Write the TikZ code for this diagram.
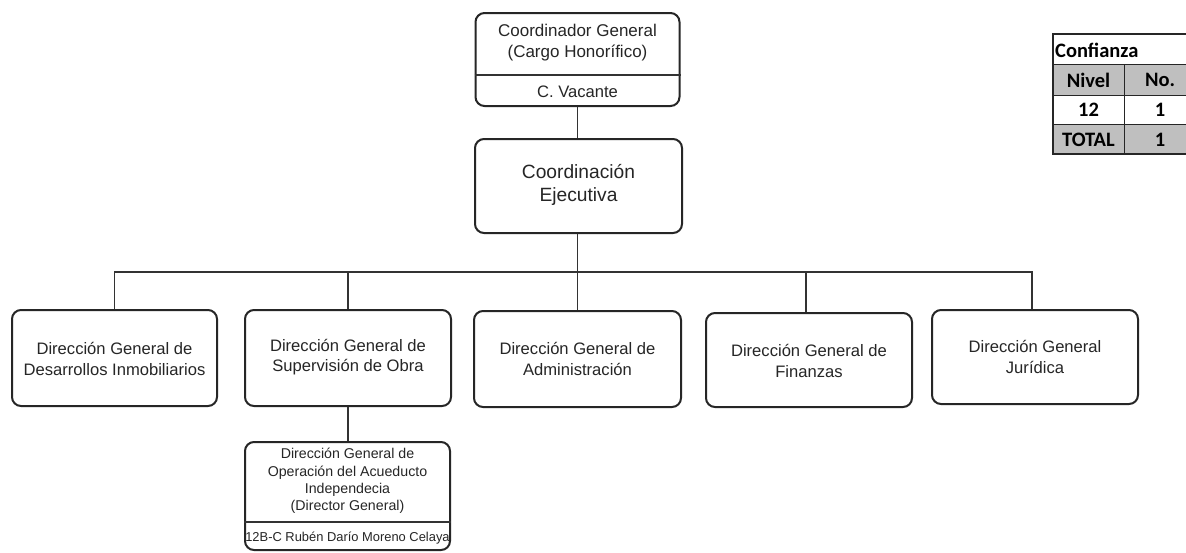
\documentclass[tikz,border=0pt]{standalone}
\usepackage{fontspec}
\setmainfont{Liberation Sans}
\newfontfamily\calib{Carlito}
\begin{document}
\begin{tikzpicture}[x=1pt,y=-1pt,
  box/.style={draw=black!85, line width=2pt, rounded corners=9pt, inner sep=0pt},
  txt/.style={align=center, inner sep=0pt, text=black!85, font=\fontsize{16.6}{20.5}\selectfont},
  bigtxt/.style={txt, font=\fontsize{19.2}{23}\selectfont},
  smalltxt/.style={txt, font=\fontsize{14.2}{17.3}\selectfont},
  link/.style={line width=1.3pt, draw=black!80},
  tcell/.style={draw=black!85, line width=1pt},
  ttxt/.style={inner sep=0pt, font=\calib\bfseries\fontsize{20.5}{22}\selectfont, text=black}]
\useasboundingbox (0,0) rectangle (1186,552);
\fill[white] (0,0) rectangle (1186,552);

% Coordinador General
\node[box, minimum width=204pt, minimum height=93pt] (cg) at (577.5,59.5) {};
\node[txt, font=\fontsize{17}{21}\selectfont] (cgt) at (577.5,43) {Coordinador General\\(Cargo Honorífico)};
\node[txt] (cgv) at (577.5,91.5) {C. Vacante};
\draw[line width=1.2pt, draw=black!80] (cg.west |- 0,75) -- (cg.east |- 0,75);

% Coordinacion Ejecutiva
\node[box, minimum width=207pt, minimum height=94pt] (ce) at (578.5,186) {};
\node[bigtxt] (cet) at (578.5,185) {Coordinación\\Ejecutiva};

% Directions
\node[box, minimum width=205pt, minimum height=96pt] (d1) at (114.5,358) {};
\node[txt] at (114.5,359) {Dirección General de\\Desarrollos Inmobiliarios};
\node[box, minimum width=206pt, minimum height=96pt] (d2) at (348,358) {};
\node[txt] at (348,357) {Dirección General de\\Supervisión de Obra};
\node[box, minimum width=207pt, minimum height=96pt] (d3) at (577.5,359) {};
\node[txt] at (577.5,359) {Dirección General de\\Administración};
\node[box, minimum width=206pt, minimum height=94pt] (d4) at (809,360) {};
\node[txt] at (809,361) {Dirección General de\\Finanzas};
\node[box, minimum width=206pt, minimum height=94pt] (d5) at (1035,357) {};
\node[txt] at (1035,357) {Dirección General\\Jurídica};

% Acueducto
\node[box, minimum width=205pt, minimum height=108pt] (da) at (347.5,496) {};
\node[smalltxt] at (347.5,481) {Dirección General de\\Operación del Acueducto\\Independecia\\(Director General)};
\node[txt, font=\fontsize{12.9}{15}\selectfont] at (347.5,538) {12B-C Rubén Darío Moreno Celaya};
\draw[line width=1.2pt, draw=black!80] (da.west |- 0,522) -- (da.east |- 0,522);

% connectors
\coordinate (bar) at (577.5,272);
\draw[link] (cg.south) -- (cg.south |- ce.north);
\draw[link] (bar |- ce.south) -- (bar);
\draw[link] (d1.north) |- (bar);
\draw[link] (d2.north) |- (bar);
\draw[link] (d3.north) |- (bar);
\draw[link] ([xshift=-3pt]d4.north) |- (bar);
\draw[link] ([xshift=-3pt]d5.north) |- (bar);
\draw[link] (d2.south) -- (d2.south |- da.north);

% Confianza table
\fill[white] (1053,34) rectangle (1196,64);
\fill[black!25] (1053,64) rectangle (1196,95);
\fill[white] (1053,95) rectangle (1196,124);
\fill[black!25] (1053,124) rectangle (1196,154);
\draw[tcell] (1053,64) -- (1196,64);
\draw[tcell] (1053,95) -- (1196,95);
\draw[tcell] (1053,124) -- (1196,124);
\draw[tcell] (1124,64) -- (1124,154);
\draw[draw=black!85, line width=2pt] (1053,34) rectangle (1196,154);
\node[ttxt, anchor=west] (tc) at (1055,50) {Confianza};
\node[ttxt] (tn) at (1088.5,80) {Nivel};
\node[ttxt] (tno) at (1160,80) {No.};
\node[ttxt] (t12) at (1088.5,110) {12};
\node[ttxt] (t1) at (1160,110) {1};
\node[ttxt] (tt) at (1088.5,139.5) {TOTAL};
\node[ttxt] (tt1) at (1160,139.5) {1};
\end{tikzpicture}
\end{document}
